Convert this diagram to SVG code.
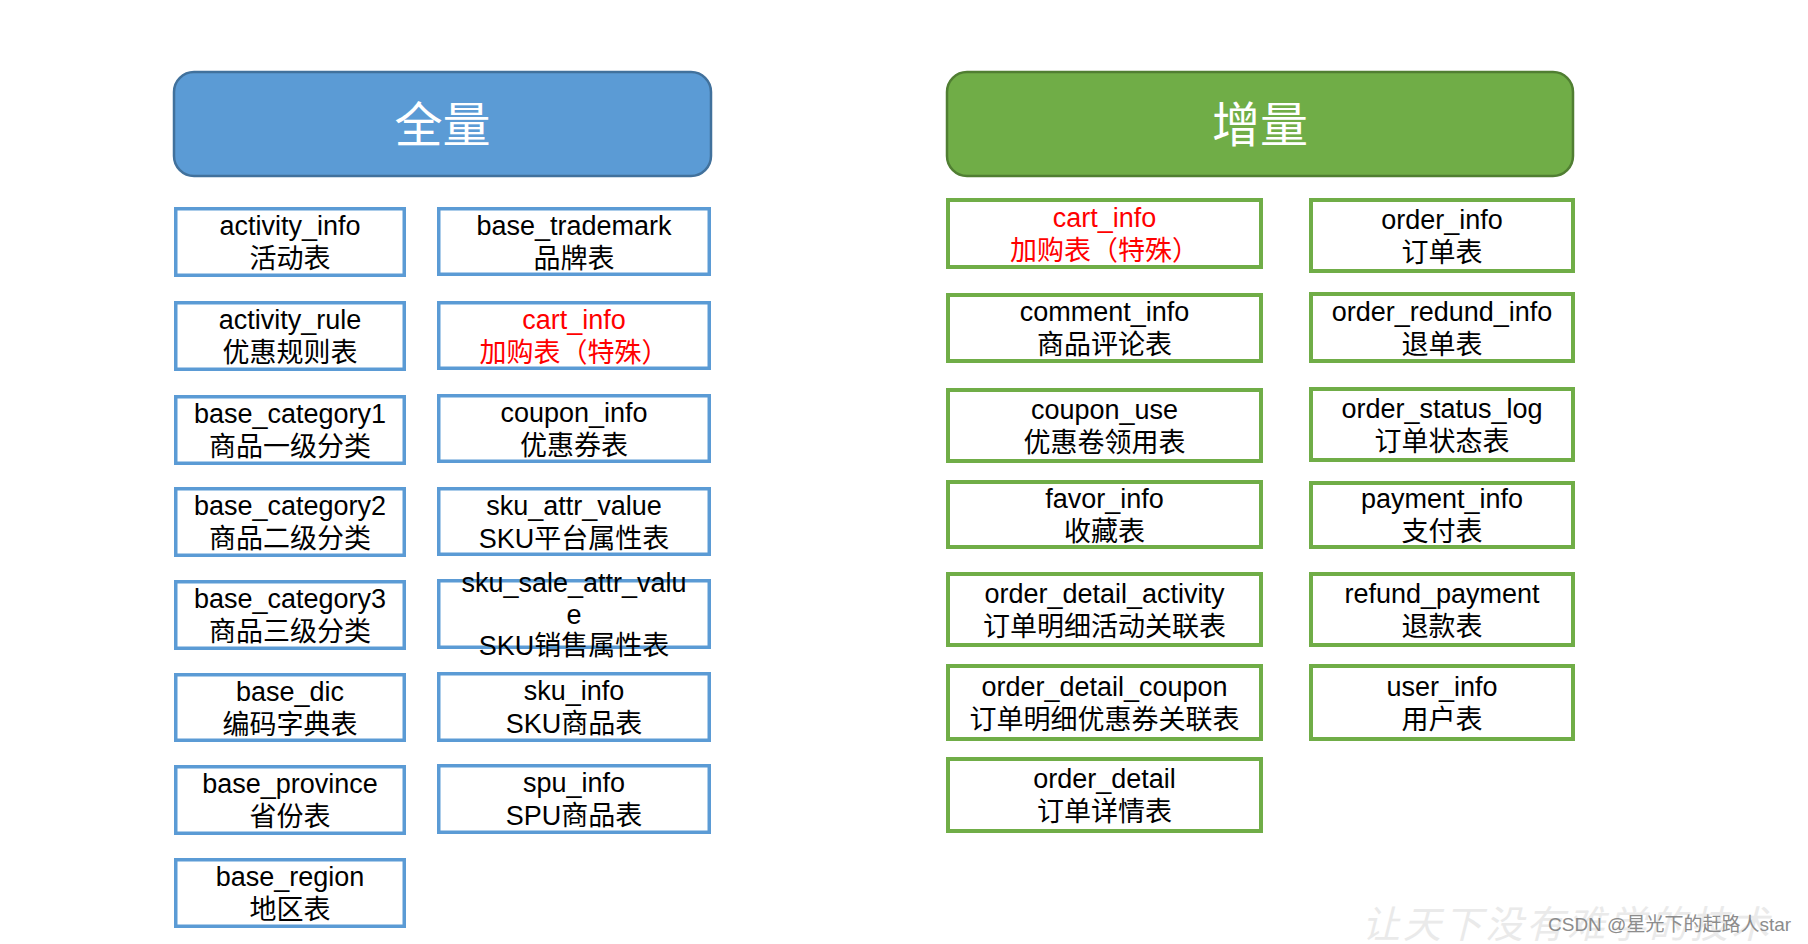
<svg xmlns="http://www.w3.org/2000/svg" width="1808" height="944" viewBox="0 0 1808 944">
<style>
.hb{fill:#5B9BD5;stroke:#41719C;stroke-width:2.5}
.hg{fill:#70AD47;stroke:#507E32;stroke-width:2.5}
.ht{font-family:"Noto Sans CJK SC","Liberation Sans",sans-serif;font-size:48px;fill:#FFFFFF;text-anchor:middle;dominant-baseline:central}
.bb{fill:#FFFFFF;stroke:#5B9BD5;stroke-width:3.5}
.gb{fill:#FFFFFF;stroke:#70AD47;stroke-width:4}
.t{font-family:"Liberation Sans","Noto Sans CJK SC",sans-serif;font-size:27px;fill:#000000;text-anchor:middle}
.red{fill:#FF0000}
.wm{font-family:"Liberation Sans","Noto Sans CJK SC",sans-serif;font-size:19px;fill:#8C8C8C}
.bg{font-family:"Noto Sans CJK SC",sans-serif;font-size:38px;fill:#EAEAEA;font-style:italic;letter-spacing:3px}
</style>
<rect width="1808" height="944" fill="#FFFFFF"/>
<g id="watermark-bg"><text class="bg" x="1362" y="938">让天下没有难学的技术</text></g>

<g id="hdr-full"><rect class="hb" x="174" y="72" width="537" height="104" rx="20"/><text class="ht" x="442.5" y="121">全量</text></g>
<g id="hdr-inc"><rect class="hg" x="947" y="72" width="626" height="104" rx="20"/><text class="ht" x="1260" y="121">增量</text></g>

<g id="full-tables">
<g id="activity_info"><rect class="bb" x="175.75" y="208.75" width="228.5" height="66.5"/><text class="t" x="290" y="235">activity_info</text><text class="t" x="290" y="268">活动表</text></g>
<g id="activity_rule"><rect class="bb" x="175.75" y="302.75" width="228.5" height="66.5"/><text class="t" x="290" y="329">activity_rule</text><text class="t" x="290" y="362">优惠规则表</text></g>
<g id="base_category1"><rect class="bb" x="175.75" y="396.75" width="228.5" height="66.5"/><text class="t" x="290" y="423">base_category1</text><text class="t" x="290" y="456">商品一级分类</text></g>
<g id="base_category2"><rect class="bb" x="175.75" y="488.75" width="228.5" height="66.5"/><text class="t" x="290" y="515">base_category2</text><text class="t" x="290" y="548">商品二级分类</text></g>
<g id="base_category3"><rect class="bb" x="175.75" y="581.75" width="228.5" height="66.5"/><text class="t" x="290" y="608">base_category3</text><text class="t" x="290" y="641">商品三级分类</text></g>
<g id="base_dic"><rect class="bb" x="175.75" y="674.75" width="228.5" height="65.5"/><text class="t" x="290" y="700.5">base_dic</text><text class="t" x="290" y="733.5">编码字典表</text></g>
<g id="base_province"><rect class="bb" x="175.75" y="766.75" width="228.5" height="66.5"/><text class="t" x="290" y="793">base_province</text><text class="t" x="290" y="826">省份表</text></g>
<g id="base_region"><rect class="bb" x="175.75" y="859.75" width="228.5" height="66.5"/><text class="t" x="290" y="886">base_region</text><text class="t" x="290" y="919">地区表</text></g>

<g id="base_trademark"><rect class="bb" x="438.75" y="208.75" width="270.5" height="65.5"/><text class="t" x="574" y="234.5">base_trademark</text><text class="t" x="574" y="267.5">品牌表</text></g>
<g id="cart_info_full"><rect class="bb" x="438.75" y="302.75" width="270.5" height="65.5"/><text class="t red" x="574" y="328.5">cart_info</text><text class="t red" x="574" y="361.5">加购表（特殊）</text></g>
<g id="coupon_info"><rect class="bb" x="438.75" y="395.75" width="270.5" height="65.5"/><text class="t" x="574" y="421.5">coupon_info</text><text class="t" x="574" y="454.5">优惠券表</text></g>
<g id="sku_attr_value"><rect class="bb" x="438.75" y="488.75" width="270.5" height="65.5"/><text class="t" x="574" y="514.5">sku_attr_value</text><text class="t" x="574" y="547.5">SKU平台属性表</text></g>
<g id="sku_sale_attr_value"><rect class="bb" x="438.75" y="580.75" width="270.5" height="66.5"/><text class="t" x="574" y="592">sku_sale_attr_valu</text><text class="t" x="574" y="623.5">e</text><text class="t" x="574" y="655">SKU销售属性表</text></g>
<g id="sku_info"><rect class="bb" x="438.75" y="673.75" width="270.5" height="66.5"/><text class="t" x="574" y="700">sku_info</text><text class="t" x="574" y="733">SKU商品表</text></g>
<g id="spu_info"><rect class="bb" x="438.75" y="765.75" width="270.5" height="66.5"/><text class="t" x="574" y="792">spu_info</text><text class="t" x="574" y="825">SPU商品表</text></g>
</g>

<g id="inc-tables">
<g id="cart_info_inc"><rect class="gb" x="948" y="200" width="313" height="67"/><text class="t red" x="1104.5" y="226.5">cart_info</text><text class="t red" x="1104.5" y="259.5">加购表（特殊）</text></g>
<g id="comment_info"><rect class="gb" x="948" y="295" width="313" height="66"/><text class="t" x="1104.5" y="321">comment_info</text><text class="t" x="1104.5" y="354">商品评论表</text></g>
<g id="coupon_use"><rect class="gb" x="948" y="390" width="313" height="71"/><text class="t" x="1104.5" y="418.5">coupon_use</text><text class="t" x="1104.5" y="451.5">优惠卷领用表</text></g>
<g id="favor_info"><rect class="gb" x="948" y="482" width="313" height="65"/><text class="t" x="1104.5" y="507.5">favor_info</text><text class="t" x="1104.5" y="540.5">收藏表</text></g>
<g id="order_detail_activity"><rect class="gb" x="948" y="574" width="313" height="71"/><text class="t" x="1104.5" y="602.5">order_detail_activity</text><text class="t" x="1104.5" y="635.5">订单明细活动关联表</text></g>
<g id="order_detail_coupon"><rect class="gb" x="948" y="666" width="313" height="73"/><text class="t" x="1104.5" y="695.5">order_detail_coupon</text><text class="t" x="1104.5" y="728.5">订单明细优惠券关联表</text></g>
<g id="order_detail"><rect class="gb" x="948" y="759" width="313" height="72"/><text class="t" x="1104.5" y="788">order_detail</text><text class="t" x="1104.5" y="821">订单详情表</text></g>

<g id="order_info"><rect class="gb" x="1311" y="200" width="262" height="71"/><text class="t" x="1442" y="228.5">order_info</text><text class="t" x="1442" y="261.5">订单表</text></g>
<g id="order_redund_info"><rect class="gb" x="1311" y="294" width="262" height="67"/><text class="t" x="1442" y="320.5">order_redund_info</text><text class="t" x="1442" y="353.5">退单表</text></g>
<g id="order_status_log"><rect class="gb" x="1311" y="389" width="262" height="71"/><text class="t" x="1442" y="417.5">order_status_log</text><text class="t" x="1442" y="450.5">订单状态表</text></g>
<g id="payment_info"><rect class="gb" x="1311" y="483" width="262" height="64"/><text class="t" x="1442" y="508">payment_info</text><text class="t" x="1442" y="541">支付表</text></g>
<g id="refund_payment"><rect class="gb" x="1311" y="574" width="262" height="71"/><text class="t" x="1442" y="602.5">refund_payment</text><text class="t" x="1442" y="635.5">退款表</text></g>
<g id="user_info"><rect class="gb" x="1311" y="666" width="262" height="73"/><text class="t" x="1442" y="695.5">user_info</text><text class="t" x="1442" y="728.5">用户表</text></g>
</g>

<g id="connectors"></g>
<g id="watermark"><text class="wm" x="1548" y="931">CSDN @星光下的赶路人star</text></g>
</svg>
